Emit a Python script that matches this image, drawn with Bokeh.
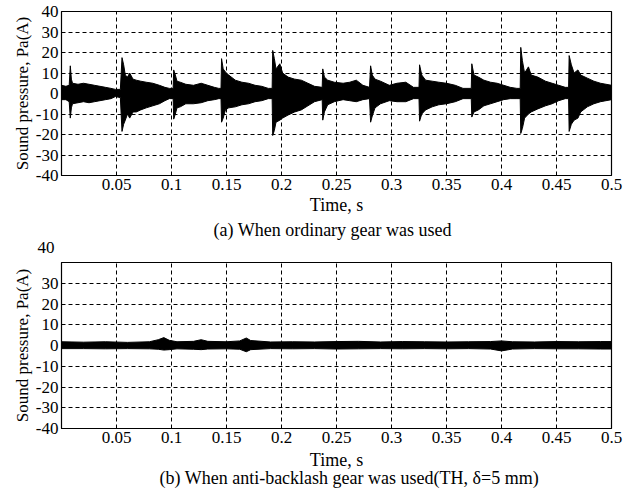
from bokeh.plotting import figure
from bokeh.layouts import column
from bokeh.models import FixedTicker, ColumnDataSource, Range1d, Title
from bokeh.embed import file_html
from bokeh.resources import INLINE

FONT = "Liberation Serif"

# ---------------- data ----------------
x_ticks = [0.05, 0.1, 0.15, 0.2, 0.25, 0.3, 0.35, 0.4, 0.45, 0.5]
x_tick_labels = ["0.05", "0.1", "0.15", "0.2", "0.25", "0.3", "0.35", "0.4", "0.45", "0.5"]
y_ticks = [-40, -30, -20, -10, 0, 10, 20, 30, 40]
y_tick_labels = ["-40", "-30", "-20", "-10", "0", "10", "20", "30", "40"]

x_label = "Time, s"
y_label = "Sound pressure, Pa(A)"
caption_a = "(a) When ordinary gear was used"
caption_b = "(b) When anti-backlash gear was used(TH, \u03b4=5 mm)"

# (a) ordinary gear: envelope of the sound-pressure signal (Pa)
a_time = [0.000, 0.004, 0.007, 0.008, 0.009, 0.010, 0.015, 0.020, 0.025, 0.030,
          0.035, 0.040, 0.045, 0.049, 0.0535, 0.055, 0.0565, 0.058, 0.060, 0.062,
          0.065, 0.068, 0.072, 0.077, 0.083, 0.089, 0.094, 0.098, 0.1015, 0.102,
          0.1035, 0.105, 0.108, 0.113, 0.120, 0.127, 0.133, 0.139, 0.143, 0.145,
          0.1455, 0.147, 0.149, 0.152, 0.158, 0.164, 0.170, 0.176, 0.182, 0.188,
          0.1915, 0.192, 0.1935, 0.195, 0.1985, 0.201, 0.206, 0.212, 0.218, 0.224,
          0.230, 0.237, 0.2375, 0.239, 0.242, 0.248, 0.256, 0.262, 0.268, 0.274,
          0.280, 0.281, 0.2825, 0.285, 0.290, 0.298, 0.305, 0.313, 0.320, 0.325,
          0.3255, 0.3275, 0.331, 0.337, 0.343, 0.350, 0.358, 0.365, 0.3725, 0.373,
          0.375, 0.379, 0.384, 0.390, 0.396, 0.402, 0.408, 0.414, 0.417, 0.4175,
          0.419, 0.421, 0.4245, 0.427, 0.433, 0.440, 0.446, 0.452, 0.458, 0.461,
          0.4615, 0.4635, 0.466, 0.4695, 0.472, 0.478, 0.484, 0.490, 0.495, 0.500]
a_upper = [4.0, 3.5, 4.0, 13.5, 7.0, 5.0, 4.5, 5.0, 4.5, 4.0,
           3.5, 3.0, 2.5, 2.0, 2.0, 17.5, 14.0, 9.0, 8.0, 10.0,
           7.0, 6.5, 6.0, 5.5, 5.0, 4.0, 3.0, 2.5, 2.5, 11.5,
           9.0, 6.0, 5.5, 4.5, 4.0, 5.0, 4.0, 3.0, 2.5, 2.5,
           17.0, 12.0, 10.5, 9.0, 6.5, 5.5, 5.0, 4.0, 3.5, 2.5,
           2.5, 21.0, 17.0, 12.0, 14.5, 10.0, 8.0, 7.0, 6.5, 5.0,
           3.5, 3.0, 12.0, 8.0, 6.5, 5.5, 5.0, 5.5, 6.5, 4.0,
           3.0, 13.5, 9.0, 7.0, 6.0, 4.0, 5.0, 5.5, 3.0, 3.0,
           14.0, 9.0, 6.5, 6.0, 5.5, 5.0, 4.0, 2.5, 2.5, 14.5,
           9.0, 8.0, 6.5, 5.5, 5.0, 4.0, 3.0, 2.5, 2.5, 22.5,
           16.0, 10.0, 13.0, 9.0, 8.0, 6.0, 5.0, 4.0, 3.0, 3.0,
           18.5, 14.0, 10.0, 11.5, 9.0, 7.5, 6.0, 5.0, 4.5, 4.0]
a_lower = [-3.0, -3.0, -4.0, -12.0, -7.0, -5.0, -4.5, -4.0, -4.5, -4.0,
           -3.5, -3.0, -2.5, -1.5, -2.0, -18.5, -15.0, -13.0, -10.0, -12.0,
           -9.0, -9.0, -8.0, -7.0, -6.0, -5.0, -3.5, -2.5, -2.5, -12.5,
           -10.0, -7.0, -6.5, -5.0, -5.0, -4.5, -3.5, -3.0, -2.5, -2.5,
           -14.0, -12.0, -8.0, -7.0, -6.5, -5.5, -5.0, -4.0, -3.5, -2.5,
           -2.5, -20.5, -18.0, -14.0, -13.0, -12.0, -10.5, -9.0, -8.0, -6.0,
           -4.0, -3.0, -13.0, -9.0, -5.5, -4.0, -3.0, -3.5, -4.0, -3.0,
           -2.5, -14.0, -11.0, -7.0, -5.0, -3.5, -4.0, -4.0, -2.5, -2.5,
           -13.5, -10.0, -8.0, -6.5, -5.5, -5.0, -4.0, -2.5, -2.5, -11.5,
           -9.0, -8.0, -6.0, -5.0, -4.0, -3.0, -2.5, -2.5, -2.5, -19.5,
           -17.0, -12.0, -10.0, -9.0, -7.5, -6.0, -5.0, -3.5, -2.5, -2.5,
           -18.5, -15.0, -13.0, -12.0, -9.0, -6.5, -5.0, -4.0, -3.5, -3.0]

# (b) anti-backlash gear: envelope of the sound-pressure signal (Pa)
b_time = [0.000, 0.020, 0.040, 0.060, 0.080, 0.088, 0.093, 0.098, 0.105, 0.120,
          0.127, 0.133, 0.150, 0.162, 0.168, 0.172, 0.190, 0.210, 0.230, 0.250,
          0.270, 0.290, 0.310, 0.330, 0.350, 0.370, 0.390, 0.400, 0.410, 0.430,
          0.450, 0.470, 0.490, 0.500]
b_upper = [1.8, 1.6, 1.8, 1.5, 1.8, 2.8, 3.8, 2.5, 1.8, 2.0,
           2.8, 2.0, 1.8, 2.2, 3.6, 2.4, 1.7, 1.8, 1.7, 1.9,
           2.0, 1.7, 1.9, 1.8, 1.7, 1.8, 1.9, 2.2, 1.8, 1.7,
           1.9, 1.8, 1.9, 1.9]
b_lower = [-1.5, -1.5, -1.6, -1.5, -1.6, -1.8, -2.2, -2.0, -1.6, -1.8,
           -2.0, -1.7, -1.6, -1.8, -3.0, -2.0, -1.5, -1.6, -1.5, -1.7,
           -1.6, -1.5, -1.6, -1.5, -1.6, -1.5, -1.7, -2.6, -1.7, -1.5,
           -1.6, -1.6, -1.7, -1.7]


def make_panel(t, up, lo, height, left, right, top, bottom, xlabel_standoff):
    p = figure(width=635, height=height, output_backend="svg", toolbar_location=None,
               x_range=Range1d(0, 0.5), y_range=Range1d(-40, 40),
               min_border_left=left, min_border_right=right,
               min_border_top=top, min_border_bottom=bottom,
               background_fill_color="white", border_fill_color="white")
    p.outline_line_color = "black"
    p.outline_line_width = 1.2
    src = ColumnDataSource(dict(t=t, up=up, lo=lo))
    p.varea(x="t", y1="lo", y2="up", source=src, fill_color="black")
    p.line(x="t", y="up", source=src, line_color="black", line_width=1)
    p.line(x="t", y="lo", source=src, line_color="black", line_width=1)

    p.xaxis.ticker = FixedTicker(ticks=x_ticks)
    p.xaxis.major_label_overrides = dict(zip(x_ticks, x_tick_labels))
    p.yaxis.ticker = FixedTicker(ticks=y_ticks)
    p.yaxis.major_label_overrides = dict(zip(y_ticks, y_tick_labels))
    for ax in (p.xaxis[0], p.yaxis[0]):
        ax.major_tick_in = 0
        ax.major_tick_out = 0
        ax.minor_tick_line_color = None
        ax.axis_line_color = "black"
        ax.major_label_text_font = FONT
        ax.major_label_text_font_size = "17px"
        ax.major_label_text_color = "black"
        ax.major_label_standoff = 3
        ax.axis_label_text_font = FONT
        ax.axis_label_text_font_style = "normal"
        ax.axis_label_text_color = "black"
    p.yaxis.axis_label = y_label
    p.yaxis.axis_label_text_font_size = "17px"
    p.yaxis.axis_label_standoff = 1
    p.xaxis.axis_label = x_label
    p.xaxis.axis_label_text_font_size = "18px"
    p.xaxis.axis_label_standoff = xlabel_standoff
    for g in (p.xgrid[0], p.ygrid[0]):
        g.grid_line_color = "black"
        g.grid_line_dash = "4 3"
        g.grid_line_width = 1
    p.xgrid.ticker = FixedTicker(ticks=x_ticks)
    p.ygrid.ticker = FixedTicker(ticks=y_ticks)
    return p


def below_title(p, text, offset, standoff, size="18px"):
    p.add_layout(Title(text=text, align="left", offset=offset, standoff=standoff,
                       text_font=FONT, text_font_size=size, text_font_style="normal",
                       text_color="black"), "below")


pa = make_panel(a_time, a_upper, a_lower, 258, 61, 22, 11, 83, 2)
below_title(pa, caption_a, 152, 0)
# the "40" tick label of panel (b) sits above its frame, in the gap between panels
below_title(pa, y_tick_labels[-1], -24, 0, size="17px")

pb = make_panel(b_time, b_upper, b_lower, 233, 60, 24, 4, 63, 4)
pb.yaxis.major_label_overrides = {**dict(zip(y_ticks, y_tick_labels)), 40: ""}
below_title(pb, caption_b, 98, -13)

layout = column(pa, pb, spacing=0)
open("out.html", "w").write(file_html(layout, INLINE))
